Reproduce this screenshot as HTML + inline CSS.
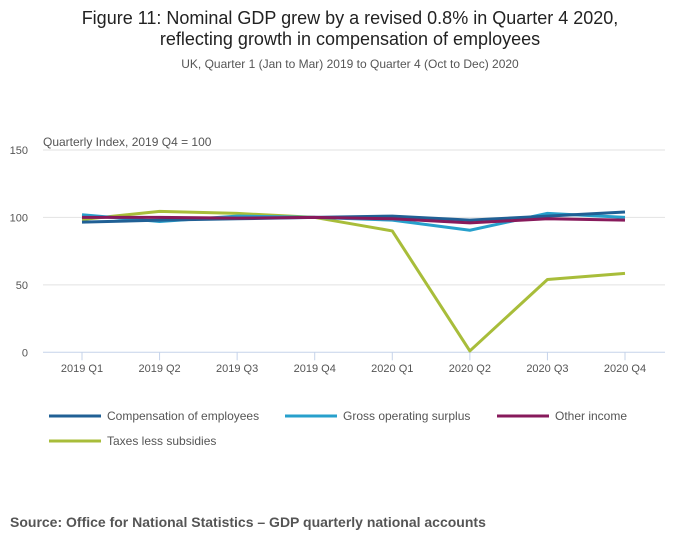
<!DOCTYPE html>
<html><head><meta charset="utf-8"><style>
body{margin:0;background:#fff;font-family:"Liberation Sans",sans-serif;}
svg text{font-family:"Liberation Sans",sans-serif;}
</style></head><body>
<svg id="c" width="700" height="549" xmlns="http://www.w3.org/2000/svg">
<text x="350" y="24" text-anchor="middle" font-size="18" fill="#222">Figure 11: Nominal GDP grew by a revised 0.8% in Quarter 4 2020,</text>
<text x="350" y="45" text-anchor="middle" font-size="18" fill="#222">reflecting growth in compensation of employees</text>
<text x="350" y="68" text-anchor="middle" font-size="12" fill="#555">UK, Quarter 1 (Jan to Mar) 2019 to Quarter 4 (Oct to Dec) 2020</text>
<text x="43" y="146" font-size="12" fill="#555">Quarterly Index, 2019 Q4 = 100</text>
<g id="grid"></g><g id="lines"></g>
<g id="legend"></g>
<text x="10" y="527" font-size="14" font-weight="bold" fill="#555">Source: Office for National Statistics – GDP quarterly national accounts</text>
</svg>
<script>
const categories=["2019 Q1","2019 Q2","2019 Q3","2019 Q4","2020 Q1","2020 Q2","2020 Q3","2020 Q4"];
const yTicks=[0,50,100,150];
const compensation=[96.5,98,99,100,101,98,101,104];
const grossSurplus=[102,97,101,100,98,90.5,103,100];
const otherIncome=[100,100,99.5,100,99,96,99,98];
const taxesLessSubsidies=[98.5,104.5,103,100,90,1,54,58.5];
const seriesNames=["Compensation of employees","Gross operating surplus","Other income","Taxes less subsidies"];
const NS="http://www.w3.org/2000/svg";
const L=43,R=665,y0=352.3,y150=150;
function xs(i){return 82+i*(625-82)/(categories.length-1);}
function ys(v){return y0-(v/150)*(y0-y150);}
function mk(t,a,p){const e=document.createElementNS(NS,t);for(const k in a)e.setAttribute(k,a[k]);p.appendChild(e);return e;}
const g=document.getElementById('grid');
yTicks.forEach(t=>{
 const ln=mk('line',{x1:L,x2:R,y1:ys(t),y2:ys(t),stroke:t===0?'#c5d3ea':'#e2e2e2','stroke-width':1},g);
 
 
 const tx=mk('text',{x:28,y:ys(t)+4,'text-anchor':'end','font-size':11,fill:'#555'},g);tx.textContent=t;
 
 
});
categories.forEach((c,i)=>{
 const tk=mk('line',{x1:xs(i),x2:xs(i),y1:y0,y2:y0+8,stroke:'#c5d3ea'},g);
 
 
 const tx=mk('text',{x:xs(i),y:372,'text-anchor':'middle','font-size':11,fill:'#555'},g);tx.textContent=c;
 
 
});
const series=[compensation,grossSurplus,otherIncome,taxesLessSubsidies];
const colors=["#206095","#27a0cc","#871a5b","#a8bd3a"];
const lg=document.getElementById('lines');
[3,1,0,2].forEach(k=>{
 const p=mk('polyline',{points:series[k].map((v,i)=>xs(i)+','+ys(v)).join(' '),fill:'none',stroke:colors[k],'stroke-width':3,'stroke-linejoin':'round'},lg);
 
 
});
const leg=document.getElementById('legend');
const lpos=[[49,416],[285,416],[497,416],[49,441]];
seriesNames.forEach((n,k)=>{
 const [x,y]=lpos[k];
 const ln=mk('line',{x1:x,x2:x+52,y1:y,y2:y,stroke:colors[k],'stroke-width':3},leg);
 
 
 const tx=mk('text',{x:x+58,y:y+4,'font-size':12,fill:'#555'},leg);tx.textContent=n;
 
 
});
</script>
</body></html>
